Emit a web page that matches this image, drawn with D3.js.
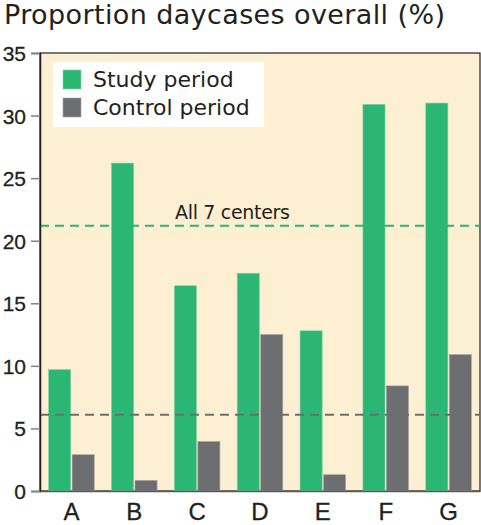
<!DOCTYPE html>
<html>
<head>
<meta charset="utf-8">
<script src="https://cdn.jsdelivr.net/npm/d3@7"></script>
<style>
  body { margin: 0; background: #fff; }
  svg { display: block; font-family: "Liberation Sans", Arial, sans-serif; }
  .wide { font-family: "DejaVu Sans", sans-serif; }
</style>
</head>
<body>
<div id="chart"></div>
<script>
// chart data
const centers = ["A", "B", "C", "D", "E", "F", "G"];
const studyPeriod = [9.7, 26.2, 16.4, 17.4, 12.8, 30.9, 31.0];
const controlPeriod = [2.9, 0.85, 3.95, 12.5, 1.3, 8.4, 10.9];
const seriesNames = ["Study period", "Control period"];
const yTicks = [0, 5, 10, 15, 20, 25, 30, 35];
const overallStudy = 21.2;
const overallControl = 6.1;

const width = 481;
const height = 525;
const margin = { top: 53, right: 1, bottom: 34, left: 40 };

const green = "#2cb673";
const grey = "#6d6e71";
const textColor = "#231f20";

const svg = d3.select("#chart").append("svg")
    .attr("width", width)
    .attr("height", height);

// scales
const x = d3.scaleBand()
    .domain(centers)
    .range([margin.left, width - margin.right])
    .paddingInner(0.275)
    .paddingOuter(0.1375);

const xInner = d3.scaleBand()
    .domain(seriesNames)
    .range([0, x.bandwidth()])
    .paddingInner(0.06);

const y = d3.scaleLinear()
    .domain([0, 35])
    .range([height - margin.bottom, margin.top]);

// plot background
svg.append("rect")
    .attr("x", margin.left)
    .attr("y", margin.top)
    .attr("width", width - margin.right - margin.left)
    .attr("height", y(0) - margin.top)
    .attr("fill", "#fdefd1")
    .attr("stroke", "#231f20")
    .attr("stroke-width", 1.2);

// bars
const rows = centers.map((c, i) => ({ center: c, values: [studyPeriod[i], controlPeriod[i]] }));
const colors = d3.scaleOrdinal().domain(seriesNames).range([green, grey]);

const groups = svg.selectAll(".group")
    .data(rows)
    .enter().append("g")
    .attr("class", "group")
    .attr("transform", d => `translate(${x(d.center)},0)`);

groups.selectAll("rect")
    .data(d => d.values.map((v, i) => ({ name: seriesNames[i], value: v })))
    .enter().append("rect")
    .attr("x", d => xInner(d.name))
    .attr("y", d => y(d.value))
    .attr("width", xInner.bandwidth())
    .attr("height", d => y(0) - y(d.value))
    .attr("fill", d => colors(d.name))
    .attr("stroke", d => d.name === seriesNames[0] ? "#7fd3a5" : "#a7a5a3")
    .attr("stroke-width", 0.6);

// average lines
svg.append("line")
    .attr("x1", margin.left).attr("x2", width - margin.right)
    .attr("y1", y(overallStudy)).attr("y2", y(overallStudy))
    .attr("stroke", green)
    .attr("stroke-width", 2)
    .attr("stroke-dasharray", "9,6");

svg.append("line")
    .attr("x1", margin.left).attr("x2", width - margin.right)
    .attr("y1", y(overallControl)).attr("y2", y(overallControl))
    .attr("stroke", grey)
    .attr("stroke-width", 2)
    .attr("stroke-dasharray", "9,6");

svg.append("text")
    .attr("class", "wide")
    .attr("x", 175)
    .attr("y", y(overallStudy) - 7)
    .attr("fill", textColor)
    .style("font-size", "19px")
    .attr("textLength", 115)
    .text("All 7 centers");

// y axis
const yAxis = svg.append("g")
    .attr("transform", `translate(${margin.left},0)`)
    .call(d3.axisLeft(y).tickValues(yTicks).tickSize(9).tickPadding(5));
yAxis.select(".domain").attr("stroke", "#231f20").attr("stroke-width", 1.5);
yAxis.selectAll(".tick line").attr("stroke", "#808285").attr("stroke-width", 1.5);
yAxis.selectAll(".tick text")
    .attr("fill", textColor)
    .style("font-size", "21px")
    .style("stroke", textColor)
    .style("stroke-width", 0.3)
    .attr("dy", "0.36em");

// x axis
const xAxis = svg.append("g")
    .attr("transform", `translate(0,${y(0)})`)
    .call(d3.axisBottom(x).tickSize(0).tickPadding(12));
xAxis.select(".domain").attr("stroke", "#58595b").attr("stroke-width", 1.5);
xAxis.selectAll(".tick text")
    .attr("fill", textColor)
    .style("font-size", "24px")
    .style("stroke", textColor)
    .style("stroke-width", 0.3)
    .attr("dy", "0.71em");

// legend
const legend = svg.append("g");
legend.append("rect")
    .attr("x", 53).attr("y", 62)
    .attr("width", 211).attr("height", 65)
    .attr("fill", "#fff");

const legendItems = legend.selectAll(".legend-item")
    .data(seriesNames)
    .enter().append("g")
    .attr("class", "legend-item")
    .attr("transform", (d, i) => `translate(63,${70 + i * 28})`);

legendItems.append("rect")
    .attr("width", 18).attr("height", 19)
    .attr("fill", d => colors(d))
    .attr("stroke", d => d === seriesNames[0] ? "#7fd3a5" : "#a7a5a3")
    .attr("stroke-width", 0.6);

legendItems.append("text")
    .attr("class", "wide")
    .attr("x", 30)
    .attr("y", 17)
    .attr("fill", textColor)
    .style("font-size", "22px")
    .text(d => d);

// title
svg.append("text")
    .attr("class", "wide")
    .attr("x", 4)
    .attr("y", 24)
    .attr("fill", textColor)
    .style("font-size", "27px")
    .attr("textLength", 441)
    .text("Proportion daycases overall (%)");
</script>
</body>
</html>
